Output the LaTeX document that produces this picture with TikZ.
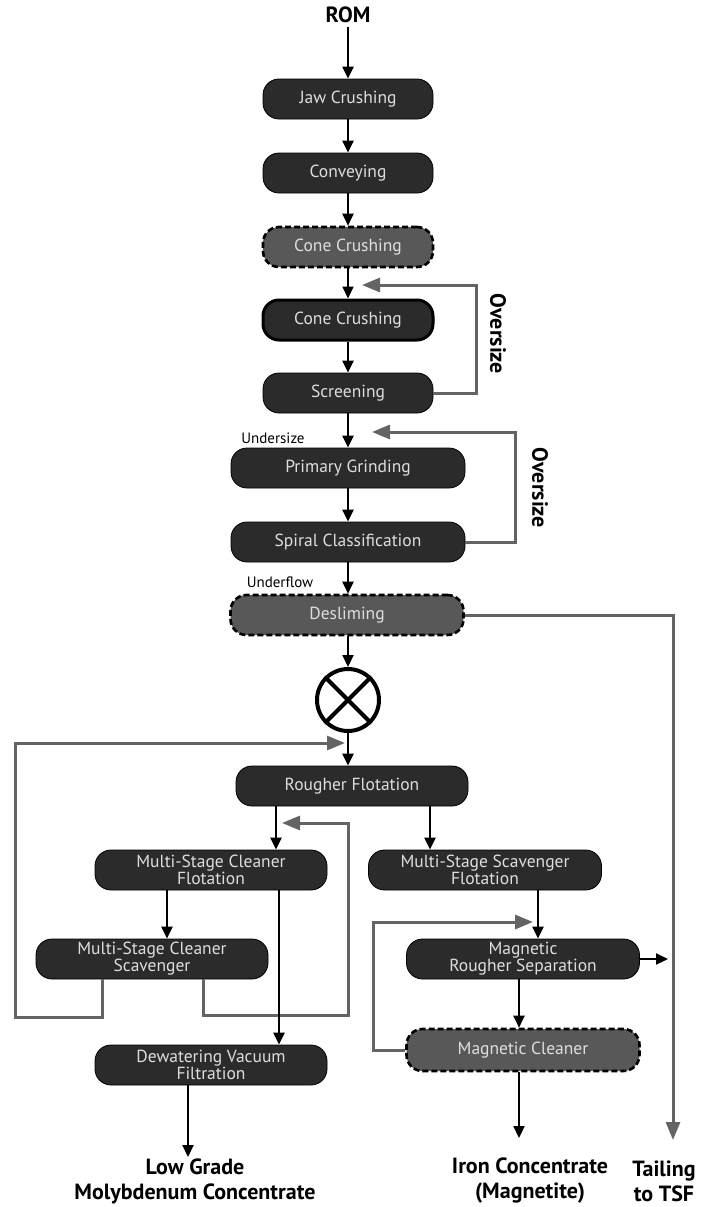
\documentclass[tikz,border=0pt]{standalone}
\usepackage{fontspec}
\setmainfont{PT Sans}
\usetikzlibrary{arrows.meta}

\definecolor{boxdark}{RGB}{43,43,43}
\definecolor{boxgrey}{RGB}{88,88,88}
\definecolor{boxtext}{RGB}{222,222,222}
\definecolor{loopgrey}{RGB}{100,100,100}

\begin{document}
\begin{tikzpicture}[x=1pt,y=-1pt,
    proc/.style={rectangle, rounded corners=16pt, fill=boxdark, draw=black, line width=0.8pt,
      text=boxtext, minimum height=40pt, inner sep=2pt, align=center,
      font=\fontsize{17.5}{17}\selectfont},
    procdash/.style={proc, fill=boxgrey, dash pattern=on 6pt off 3pt, line width=2.6pt},
    procbold/.style={proc, line width=3pt},
    flow/.style={line width=2.2pt, -{Triangle[length=12pt,width=11pt]}},
    recycle/.style={draw=loopgrey, line width=3pt, -{Triangle[length=18pt,width=14pt]}},
    outlabel/.style={font=\fontsize{22}{25}\selectfont\bfseries, align=center},
    smalllabel/.style={font=\fontsize{15}{17}\selectfont}]
    \useasboundingbox (0,0) rectangle (705,1207);

    % Crushing circuit
    \node [outlabel] (rom) at (348,15) {ROM};
    \node [proc, minimum width=170pt] (jaw) at (348,99) {Jaw Crushing};
    \node [proc, minimum width=170pt] (convey) at (348,173) {Conveying};
    \node [procdash, minimum width=170pt] (cone1) at (348,247) {Cone Crushing};
    \node [procbold, minimum width=170pt] (cone2) at (348,320) {Cone Crushing};
    \node [proc, minimum width=170pt] (screen) at (348,393) {Screening};

    % Grinding circuit
    \node [proc, minimum width=234pt] (grind) at (348,468) {Primary Grinding};
    \node [proc, minimum width=234pt] (spiral) at (348,542) {Spiral Classification};
    \node [procdash, minimum width=233pt] (deslime) at (347,615) {Desliming};
    \node [circle, draw, line width=4pt, minimum size=62pt, inner sep=0pt] (mix) at (348,700) {};

    % Flotation
    \node [proc, minimum width=232pt] (rougher) at (352,786) {Rougher Flotation};
    \node [proc, minimum width=232pt] (cleanflot) at (211,870) {Multi-Stage Cleaner\\Flotation};
    \node [proc, minimum width=232pt] (cleanscav) at (152,959) {Multi-Stage Cleaner\\Scavenger};
    \node [proc, minimum width=232pt] (dewater) at (211,1065) {Dewatering Vacuum\\Filtration};
    \node [proc, minimum width=233pt] (scavflot) at (485,870) {Multi-Stage Scavenger\\Flotation};

    % Magnetic separation
    \node [proc, minimum width=233pt] (magrough) at (523,959) {Magnetic\\Rougher Separation};
    \node [procdash, minimum width=233pt, minimum height=42pt] (magclean) at (523,1050) {Magnetic Cleaner};

    % Products
    \node [outlabel, inner sep=0pt] (moly) at (195,1181) {Low Grade\\Molybdenum Concentrate};
    \node [outlabel, inner sep=0pt] (iron) at (530,1181) {Iron Concentrate\\(Magnetite)};
    \node [outlabel, inner sep=0pt] (tsf) at (664,1181) {Tailing\\to TSF};

    % Text labels
    \node [smalllabel] (under) at (273,438) {Undersize};
    \node [smalllabel] (uflow) at (280,582) {Underflow};
    \node [outlabel, rotate=-90] (over1) at (498,334) {Oversize};
    \node [outlabel, rotate=-90] (over2) at (540,488) {Oversize};

    % Recycle coordinates
    \coordinate (tip1) at (362,285);
    \coordinate (tip2) at (372,432);
    \coordinate (tip3) at (345,743);
    \coordinate (tip4) at (282,823);
    \coordinate (tip5) at (533,922);
    \coordinate (tailend) at (673,1140);

    % Recycle streams
    \draw [recycle] (screen.east) -| (476,285) -- (tip1);
    \draw [recycle] (spiral.east) -| (515,432) -- (tip2);
    \draw [recycle] (deslime.east) -| (tailend);
    \draw [recycle] ([xshift=-50pt]cleanscav.south) |- (15,1017) |- (tip3);
    \draw [recycle] ([xshift=51pt]cleanscav.south) |- (348,1015) |- (tip4);
    \draw [recycle] (magclean.west) -| (373,922) -- (tip5);

    % Main flow
    \draw [flow] (rom) -- (jaw);
    \draw [flow] (jaw) -- (convey);
    \draw [flow] (convey) -- (cone1);
    \draw [flow] (cone1) -- (cone2);
    \draw [flow] (cone2) -- (screen);
    \draw [flow] (screen) -- (grind);
    \draw [flow] (grind) -- (spiral);
    \draw [flow] (spiral) -- (spiral |- deslime.north);
    \draw [flow] (deslime.south -| mix) -- (mix);
    \draw [line width=4pt] (mix.45) -- (mix.225) (mix.135) -- (mix.315);
    \draw [flow] (mix) -- (mix |- rougher.north);
    \draw [flow] (rougher.south -| 276,0) -- (cleanflot.north -| 276,0);
    \draw [flow] (rougher.south -| 430,0) -- (scavflot.north -| 430,0);
    \draw [flow] (cleanflot.south -| 167,0) -- (cleanscav.north -| 167,0);
    \draw [flow] (cleanflot.south -| 279,0) -- (dewater.north -| 279,0);
    \draw [flow] (dewater.south -| 188,0) -- (188,1157);
    \draw [flow] (scavflot.south -| 538,0) -- (magrough.north -| 538,0);
    \draw [flow] (magrough.east) -- (668,959);
    \draw [flow] (magrough.south -| 519,0) -- (magclean.north -| 519,0);
    \draw [flow] (magclean.south -| 519,0) -- (519,1138);

\end{tikzpicture}
\end{document}
